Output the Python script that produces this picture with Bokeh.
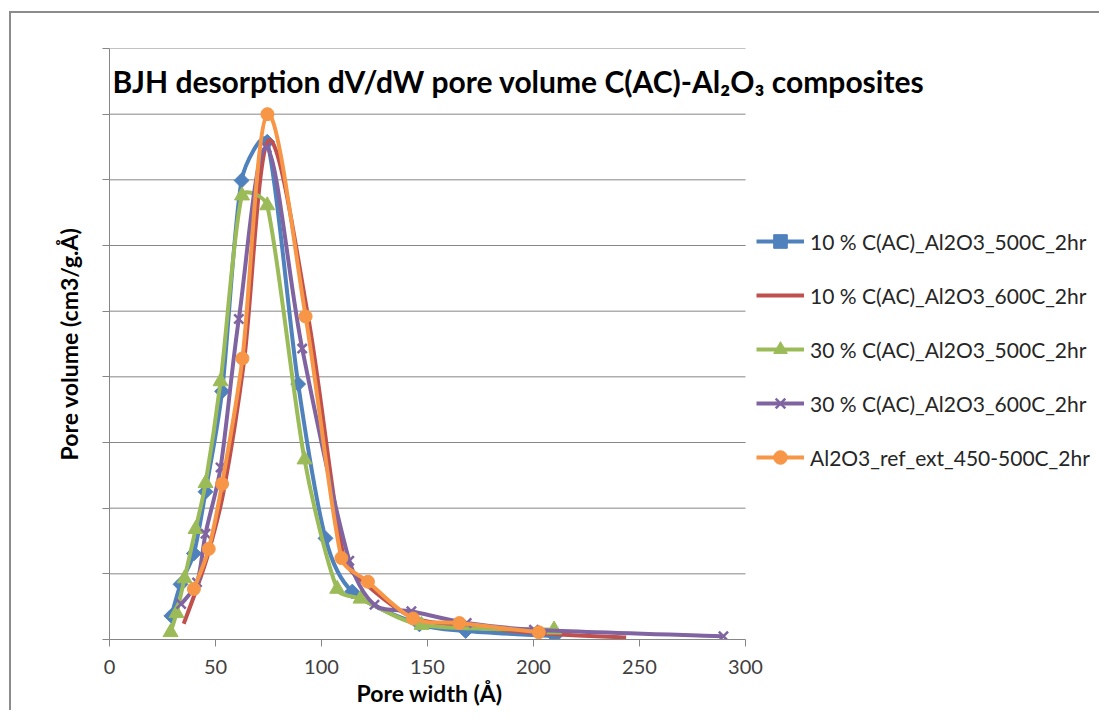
import numpy as np
from bokeh.plotting import figure
from bokeh.models import (ColumnDataSource, Legend, LegendItem, Label, Title,
                          FixedTicker, CustomJSTickFormatter)
from bokeh.embed import file_html
from bokeh.resources import INLINE

# ---------------- data (arbitrary y units = grid steps) ----
X_TICKS = [0, 50, 100, 150, 200, 250, 300]
Y_TICKS = [0, 1, 2, 3, 4, 5, 6, 7, 8, 9]

labels = ["10 % C(AC)_Al2O3_500C_2hr",
          "10 % C(AC)_Al2O3_600C_2hr",
          "30 % C(AC)_Al2O3_500C_2hr",
          "30 % C(AC)_Al2O3_600C_2hr",
          "Al2O3_ref_ext_450-500C_2hr"]

x_10_500 = [29.2, 33.5, 39.8, 45.3, 53.1, 62.3, 74.4, 89.0, 101.9, 114.5, 146.2, 168.0, 210.0]
y_10_500 = [0.36, 0.84, 1.31, 2.25, 3.78, 6.99, 7.58, 3.89, 1.54, 0.73, 0.23, 0.13, 0.05]

x_10_600 = [35.0, 40.5, 46.5, 53.8, 63.5, 75.1, 93.5, 110.5, 122.5, 143.5, 168.0, 201.0, 243.7]
y_10_600 = [0.24, 0.72, 1.30, 2.25, 4.25, 7.60, 4.95, 1.25, 0.80, 0.33, 0.21, 0.10, 0.03]

x_30_500 = [28.8, 31.6, 35.4, 40.6, 45.3, 52.4, 62.5, 74.4, 92.0, 107.4, 118.4, 147.2, 209.7]
y_30_500 = [0.11, 0.40, 0.93, 1.68, 2.38, 3.93, 6.76, 6.61, 2.74, 0.77, 0.62, 0.22, 0.15]

x_30_600 = [33.8, 41.3, 45.3, 52.4, 61.0, 74.1, 90.9, 113.1, 125.0, 142.4, 168.5, 200.2, 289.6]
y_30_600 = [0.54, 0.87, 1.61, 2.62, 4.88, 7.49, 4.43, 1.20, 0.53, 0.43, 0.25, 0.15, 0.05]

x_ref = [39.8, 46.8, 53.1, 62.7, 74.5, 92.5, 109.4, 121.9, 143.2, 165.0, 202.5]
y_ref = [0.77, 1.38, 2.37, 4.28, 8.00, 4.92, 1.24, 0.88, 0.32, 0.25, 0.11]

colors = ["#4F81BD", "#C0504D", "#9BBB59", "#8064A2", "#F79646"]
markers = ["square", None, "triangle", "x", "circle"]
series = [(x_10_500, y_10_500), (x_10_600, y_10_600), (x_30_500, y_30_500),
          (x_30_600, y_30_600), (x_ref, y_ref)]

FONT = "Lato"

# ---------------- layout ----------------
W, H = 1099, 710
LEFT, TOP = 109, 48
FRAME_W_AXIS = 636          # pixels spanned by the 0..300 axis
FRAME_H = 591
RIGHT = 4
FRAME_W = W - LEFT - RIGHT
XMAX_AXIS = X_TICKS[-1]
X_END = XMAX_AXIS * FRAME_W / FRAME_W_AXIS   # extra room on the right for legend/title
SX = FRAME_W_AXIS / XMAX_AXIS
SY = FRAME_H / Y_TICKS[-1]


def smooth_segments(xs, ys):
    """Excel-like smoothed line: cubic Bezier (Catmull-Rom tangents, clamped)."""
    x = np.asarray(xs, float) * SX
    y = np.asarray(ys, float) * SY
    n = len(x)
    xp = np.concatenate([[x[0]], x, [x[-1]]])
    yp = np.concatenate([[y[0]], y, [y[-1]]])
    tx = (xp[2:] - xp[:-2]) / 6.0
    ty = (yp[2:] - yp[:-2]) / 6.0
    tl = np.hypot(tx, ty)
    seg = np.hypot(np.diff(x), np.diff(y))
    out = {k: [] for k in ("x0", "y0", "x1", "y1", "cx0", "cy0", "cx1", "cy1")}
    for i in range(n - 1):
        L = seg[i]
        f0 = min(1.0, (L / 3.0) / tl[i]) if tl[i] > 0 else 0
        f1 = min(1.0, (L / 3.0) / tl[i + 1]) if tl[i + 1] > 0 else 0
        out["x0"].append(x[i] / SX)
        out["y0"].append(y[i] / SY)
        out["x1"].append(x[i + 1] / SX)
        out["y1"].append(y[i + 1] / SY)
        out["cx0"].append((x[i] + tx[i] * f0) / SX)
        out["cy0"].append((y[i] + ty[i] * f0) / SY)
        out["cx1"].append((x[i + 1] - tx[i + 1] * f1) / SX)
        out["cy1"].append((y[i + 1] - ty[i + 1] * f1) / SY)
    return out


p = figure(width=W, height=H, x_range=(0, X_END), y_range=(Y_TICKS[0], Y_TICKS[-1]),
           output_backend="svg", toolbar_location=None,
           min_border_left=LEFT, min_border_right=RIGHT,
           min_border_top=TOP, min_border_bottom=H - TOP - FRAME_H)
p.background_fill_color = "white"
p.border_fill_color = None
p.outline_line_color = None
p.styles = {
    "background-color": "#ffffff",
    "background-image": "linear-gradient(#8c8c8c, #8c8c8c), linear-gradient(#8c8c8c, #8c8c8c)",
    "background-position": "9px 11px, 9px 11px",
    "background-size": "2px 100%, 100% 2px",
    "background-repeat": "no-repeat",
}

GRAY = "#868686"
p.xgrid.grid_line_color = None
p.ygrid.grid_line_color = None
# horizontal gridlines only across the 0..300 axis extent
p.segment(x0=[X_TICKS[0]] * (len(Y_TICKS) - 1), x1=[XMAX_AXIS] * (len(Y_TICKS) - 1),
          y0=Y_TICKS[1:], y1=Y_TICKS[1:], line_color=GRAY, line_width=1)

p.xaxis.ticker = FixedTicker(ticks=X_TICKS)
p.xaxis.bounds = (X_TICKS[0], XMAX_AXIS)
p.yaxis.ticker = FixedTicker(ticks=Y_TICKS)
p.yaxis.formatter = CustomJSTickFormatter(code="return ''")
for ax in (p.xaxis, p.yaxis):
    ax.axis_line_color = GRAY
    ax.major_tick_line_color = GRAY
    ax.minor_tick_line_color = None
    ax.major_tick_in = 0
    ax.major_tick_out = 7
    ax.axis_label_text_font = FONT
    ax.axis_label_text_font_style = "bold"
    ax.axis_label_text_font_size = "23px"
    ax.axis_label_text_color = "#000000"
    ax.major_label_text_font = FONT
    ax.major_label_text_font_size = "20px"
    ax.major_label_text_color = "#404040"

p.xaxis.major_label_standoff = 13
p.yaxis.axis_label = "Pore volume (cm3/g.Å)"
p.yaxis.major_label_standoff = 0
p.yaxis.axis_label_standoff = 20

# x-axis title, centred under the 0..300 part of the axis
xtitle = Title(text="Pore width (Å)", align="left", offset=247, standoff=0,
               vertical_align="bottom", text_font=FONT, text_font_style="bold",
               text_font_size="23px", text_color="#000000")
p.add_layout(xtitle, "below")

items = []
for (xs, ys), col, mk, lab in zip(series, colors, markers, labels):
    seg = ColumnDataSource(smooth_segments(xs, ys))
    rb = p.bezier(x0="x0", y0="y0", x1="x1", y1="y1", cx0="cx0", cy0="cy0",
                  cx1="cx1", cy1="cy1", source=seg, line_color=col, line_width=4)
    rends = [rb]
    if mk is not None:
        src = ColumnDataSource(dict(x=xs, y=ys))
        if mk == "square":
            r = p.scatter("x", "y", source=src, marker="square", size=10.5,
                          angle=np.pi / 4, fill_color=col, line_color=col)
        elif mk == "triangle":
            r = p.scatter("x", "y", source=src, marker="triangle", size=15,
                          fill_color=col, line_color=col)
        elif mk == "x":
            r = p.scatter("x", "y", source=src, marker="x", size=13,
                          line_color=col, line_width=2.5)
        else:
            r = p.scatter("x", "y", source=src, marker="circle", size=13,
                          fill_color=col, line_color=col)
        rends.append(r)
    items.append(LegendItem(label=lab, renderers=rends))

legend = Legend(items=items, location=(647, 165),
                border_line_color=None, background_fill_alpha=0,
                glyph_width=48, glyph_height=34, label_height=34,
                spacing=20, label_standoff=6, padding=0, margin=0,
                label_text_font=FONT, label_text_font_size="21px",
                label_text_color="#262626")
p.add_layout(legend, "center")

title = Label(x=1.4, y=8.50, text="BJH desorption dV/dW pore volume C(AC)-Al₂O₃ composites",
              text_font=FONT, text_font_style="bold", text_font_size="30px",
              text_color="#000000", text_baseline="alphabetic", text_align="left")
p.add_layout(title)

open("out.html", "w").write(file_html(p, INLINE))
